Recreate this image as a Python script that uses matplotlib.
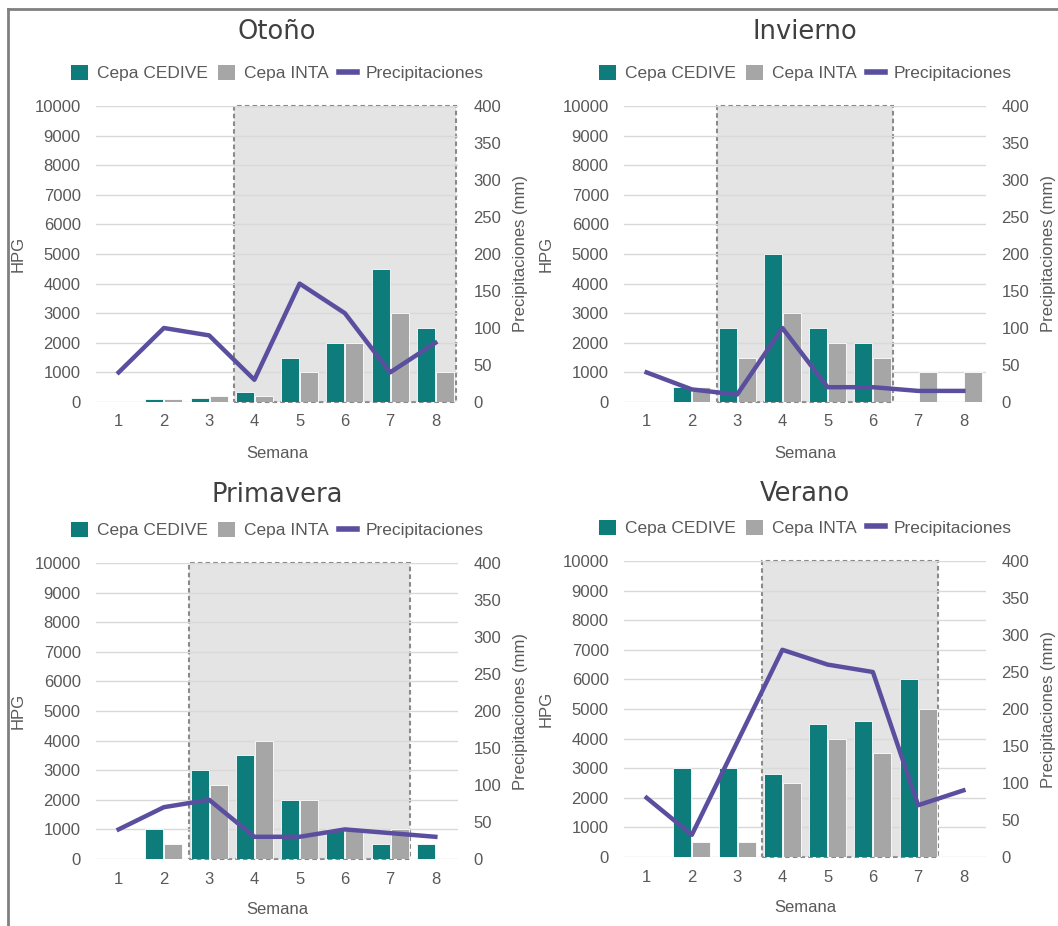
import matplotlib.pyplot as plt
from matplotlib.lines import Line2D
from matplotlib.patches import Patch

plt.rcParams['font.family'] = ['Liberation Sans', 'DejaVu Sans']

semanas = [1, 2, 3, 4, 5, 6, 7, 8]

otono_cedive = [0, 100, 150, 350, 1500, 2000, 4500, 2500]
otono_inta = [0, 100, 200, 200, 1000, 2000, 3000, 1000]
otono_lluvia = [40, 100, 90, 30, 160, 120, 40, 80]
otono_zona = (4, 8)

invierno_cedive = [0, 500, 2500, 5000, 2500, 2000, 0, 0]
invierno_inta = [0, 500, 1500, 3000, 2000, 1500, 1000, 1000]
invierno_lluvia = [40, 17, 10, 100, 20, 20, 15, 15]
invierno_zona = (3, 6)

primavera_cedive = [0, 1000, 3000, 3500, 2000, 1000, 500, 500]
primavera_inta = [0, 500, 2500, 4000, 2000, 1000, 1000, 0]
primavera_lluvia = [40, 70, 80, 30, 30, 40, 35, 30]
primavera_zona = (3, 7)

verano_cedive = [0, 3000, 3000, 2800, 4500, 4600, 6000, 0]
verano_inta = [0, 500, 500, 2500, 4000, 3500, 5000, 0]
verano_lluvia = [80, 30, 155, 280, 260, 250, 70, 90]
verano_zona = (4, 7)

TEAL = '#0E7C7B'
GRIS = '#A6A6A6'
LINEA = '#5A4F9F'
TXT = '#595959'

W, H = 1058, 926
fig = plt.figure(figsize=(W / 100, H / 100), dpi=100)

# (titulo, cedive, inta, lluvia, zona, left px, top px, title offset px)
paneles = [
    ('Otoño', otono_cedive, otono_inta, otono_lluvia, otono_zona, 96, 106, 74),
    ('Invierno', invierno_cedive, invierno_inta, invierno_lluvia, invierno_zona, 624, 106, 74),
    ('Primavera', primavera_cedive, primavera_inta, primavera_lluvia, primavera_zona, 96, 563, 68),
    ('Verano', verano_cedive, verano_inta, verano_lluvia, verano_zona, 624, 561, 67),
]
aw, ah = 362, 296

for titulo, ced, inta, lluvia, zona, l, t, toff in paneles:
    ax = fig.add_axes([l / W, 1 - (t + ah) / H, aw / W, ah / H])
    x = list(semanas)
    ax.bar([v - 0.21 for v in x], ced, 0.4, color=TEAL, edgecolor='white', linewidth=0.6, zorder=2)
    ax.bar([v + 0.21 for v in x], inta, 0.4, color=GRIS, edgecolor='white', linewidth=0.6, zorder=2)
    ax.axvspan(zona[0] - 0.45, zona[1] + 0.45, ymin=0, ymax=1, facecolor='#E4E4E4',
               edgecolor='#8A8A8A', linestyle=(0, (2.2, 1.5)), linewidth=1.5, zorder=0.3,
               clip_on=False)
    ax.set_xlim(0.5, 8.5)
    ax.set_ylim(0, 10000)
    ax.set_yticks(range(0, 10001, 1000))
    ax.set_xticks(semanas)
    ax.set_axisbelow(True)
    ax.yaxis.grid(True, color='#D9D9D9', linewidth=1, zorder=0.5)
    for s in ax.spines.values():
        s.set_visible(False)
    ax.tick_params(axis='y', length=0, pad=11, labelsize=12, labelcolor=TXT)
    ax.tick_params(axis='x', length=0, pad=9, labelsize=12, labelcolor=TXT)
    ax.set_ylabel('HPG', fontsize=12, color=TXT, va='center')
    ax.yaxis.set_label_coords(-78 / aw, 0.5)
    ax.set_xlabel('Semana', fontsize=12, color=TXT, va='center')
    ax.xaxis.set_label_coords(0.5, -51 / ah)
    ax.text(0.5, 1 + toff / ah, titulo, transform=ax.transAxes, ha='center', va='center',
            fontsize=18.5, color='#404040', family='DejaVu Sans')

    ax2 = ax.twinx()
    ax2.plot(semanas, lluvia, color=LINEA, linewidth=3.2)
    ax2.set_ylim(0, 400)
    ax2.set_yticks(range(0, 401, 50))
    for s in ax2.spines.values():
        s.set_visible(False)
    ax2.tick_params(axis='y', length=0, pad=11, labelsize=12, labelcolor=TXT)
    ax2.set_ylabel('Precipitaciones (mm)', fontsize=12, color=TXT, va='center')
    ax2.yaxis.set_label_coords(1 + 62 / aw, 0.5)

    handles = [Patch(facecolor=TEAL), Patch(facecolor=GRIS), Line2D([], [], color=LINEA, linewidth=4)]
    ax2.legend(handles, ['Cepa CEDIVE', 'Cepa INTA', 'Precipitaciones'], loc='center',
               bbox_to_anchor=(0.5, 1 + 33 / ah), ncol=3, frameon=False, fontsize=12.5,
               handlelength=1.0, handleheight=1.0, handletextpad=0.5, columnspacing=0.6,
               labelcolor=TXT)

# marco
fig.add_artist(Line2D([8 / W, 1], [1 - 9 / H, 1 - 9 / H], transform=fig.transFigure,
                      color='#808080', linewidth=2))
fig.add_artist(Line2D([8 / W, 8 / W], [0, 1 - 9 / H], transform=fig.transFigure,
                      color='#808080', linewidth=2))

fig.savefig('out.png', dpi=100)
